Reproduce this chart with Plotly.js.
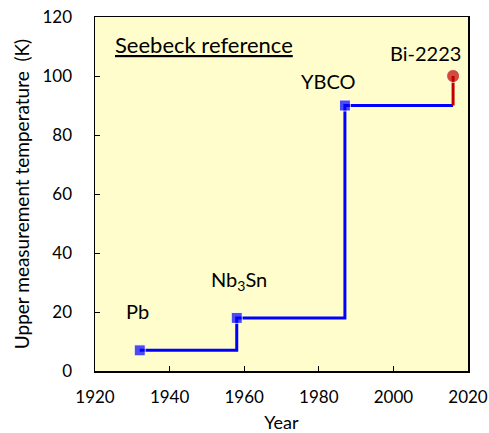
<!DOCTYPE html>
<html><head><meta charset="utf-8">
<script src="https://cdn.plot.ly/plotly-3.0.1.min.js"></script>
<style>html,body{margin:0;padding:0;background:#fff;}#chart{width:489px;height:433px;}</style>
</head><body><div id="chart"></div>
<script>
const materials = ["Pb", "Nb<sub>3</sub>Sn", "YBCO", "Bi-2223"];
const years = [1932, 1958, 1987, 2016];
const temps = [7, 18, 90, 100];
const xTicks = [1920, 1940, 1960, 1980, 2000, 2020];
const yTicks = [0, 20, 40, 60, 80, 100, 120];
const labelX = [1931.3, 1958.6, 1982.7, 2008.7];
const labelY = [20.3, 30.8, 98.4, 107.7];

const n = years.length;
const blueX = years.slice(0, n - 1).concat([years[n - 1]]);
const blueY = temps.slice(0, n - 1).concat([temps[n - 2]]);
const traces = [
  {x: blueX, y: blueY, mode: 'lines+markers', line: {shape: 'hv', color: '#0000FF', width: 3},
   marker: {symbol: 'square', color: '#0000FF', size: blueX.map((v, i) => i < n - 1 ? 11 : 0)},
   hoverinfo: 'skip'},
  {x: [years[n - 1], years[n - 1]], y: [temps[n - 2], temps[n - 1]], mode: 'lines+markers',
   line: {color: '#C00000', width: 3}, marker: {color: '#C00000', size: [0, 13]}, hoverinfo: 'skip'}
];
const font = {family: 'Lato, "Open Sans", sans-serif', color: '#000'};
const annotations = materials.map((m, i) => ({x: labelX[i], y: labelY[i], xref: 'x', yref: 'y', text: m,
  showarrow: false, font: Object.assign({size: 20}, font)}));
annotations.push({x: 1924.8, y: 110.8, xref: 'x', yref: 'y', xanchor: 'left', showarrow: false,
  text: '<u>Seebeck reference</u>', font: Object.assign({size: 22}, font)});
const layout = {
  width: 489, height: 433, showlegend: false,
  margin: {l: 95, r: 21, t: 17, b: 62},
  paper_bgcolor: '#fff', plot_bgcolor: '#FFFDCC',
  font: Object.assign({size: 17}, font),
  xaxis: {range: [1920, 2020], tickvals: xTicks, ticks: 'inside', ticklen: 5, tickcolor: '#000',
    ticklabelstandoff: 10,
    showline: true, linecolor: '#000', linewidth: 1.5, mirror: true, showgrid: false, zeroline: false,
    title: {text: 'Year', font: Object.assign({size: 18}, font), standoff: 10}},
  yaxis: {range: [0, 120], tickvals: yTicks, ticks: 'inside', ticklen: 5, tickcolor: '#000',
    ticklabelstandoff: 18,
    showline: true, linecolor: '#000', linewidth: 1.5, mirror: true, showgrid: false, zeroline: false,
    title: {text: 'Upper measurement temperature  (K)', font: Object.assign({size: 19}, font), standoff: 8}},
  annotations: annotations
};
Plotly.newPlot('chart', traces, layout, {staticPlot: true});
</script></body></html>
